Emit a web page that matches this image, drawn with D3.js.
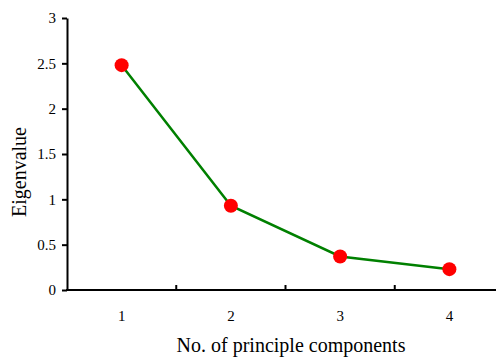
<!DOCTYPE html>
<html>
<head>
<meta charset="utf-8">
<script src="https://cdn.jsdelivr.net/npm/d3@7"></script>
<style>
  html, body { margin: 0; padding: 0; background: #fff; }
  svg { display: block; }
  text { font-family: "Liberation Serif", "Times New Roman", serif; fill: #000; }
</style>
</head>
<body>
<svg id="chart" width="496" height="358"></svg>
<script>
const components = [1, 2, 3, 4];
const eigenvalues = [2.48, 0.93, 0.37, 0.23];
const yTicks = [0, 0.5, 1, 1.5, 2, 2.5, 3];
const xLabel = "No. of principle components";
const yLabel = "Eigenvalue";

const W = 496, H = 358;
const svg = d3.select("#chart");

const x = d3.scaleBand().domain(components).range([67, 504]);
const y = d3.scaleLinear().domain([0, 3]).range([290, 18]);

// Y axis
const yAxis = svg.append("g").attr("transform", "translate(67,0)")
  .call(d3.axisLeft(y).tickValues(yTicks).tickSize(5).tickSizeOuter(0)
    .tickFormat(d => String(d)).tickPadding(6));
yAxis.attr("font-family", null).attr("font-size", null);
yAxis.select(".domain").attr("stroke", "#000").attr("stroke-width", 2);
yAxis.selectAll(".tick line").attr("stroke", "#000").attr("stroke-width", 2);
yAxis.selectAll(".tick text").style("font-size", "15px")
  .style("font-family", '"Liberation Serif", "Times New Roman", serif');

// X axis line
svg.append("line")
  .attr("x1", 66).attr("x2", W).attr("y1", y(0)).attr("y2", y(0))
  .attr("stroke", "#000").attr("stroke-width", 2);

// X boundary tick marks (inside)
const bounds = components.slice(1).map(c => x(c));
svg.selectAll(".xtick").data(bounds).enter().append("line")
  .attr("class", "xtick")
  .attr("x1", d => d).attr("x2", d => d)
  .attr("y1", y(0)).attr("y2", y(0) - 5)
  .attr("stroke", "#000").attr("stroke-width", 2);

// X labels
svg.selectAll(".xlab").data(components).enter().append("text")
  .attr("class", "xlab")
  .attr("x", d => x(d) + x.bandwidth() / 2)
  .attr("y", 321)
  .attr("text-anchor", "middle")
  .style("font-size", "15px")
  .text(d => d);

// Line
const line = d3.line()
  .x((d, i) => x(components[i]) + x.bandwidth() / 2)
  .y(d => y(d));
svg.append("path").datum(eigenvalues)
  .attr("d", line)
  .attr("fill", "none")
  .attr("stroke", "#008000")
  .attr("stroke-width", 2.5);

// Points
svg.selectAll(".pt").data(eigenvalues).enter().append("circle")
  .attr("class", "pt")
  .attr("cx", (d, i) => x(components[i]) + x.bandwidth() / 2)
  .attr("cy", d => y(d))
  .attr("r", 7)
  .attr("fill", "#ff0000");

// Axis titles
svg.append("text")
  .attr("x", 291).attr("y", 352)
  .attr("text-anchor", "middle")
  .style("font-size", "20px")
  .text(xLabel);

svg.append("text")
  .attr("transform", "translate(26,172) rotate(-90)")
  .attr("text-anchor", "middle")
  .style("font-size", "20px")
  .text(yLabel);
</script>
</body>
</html>
